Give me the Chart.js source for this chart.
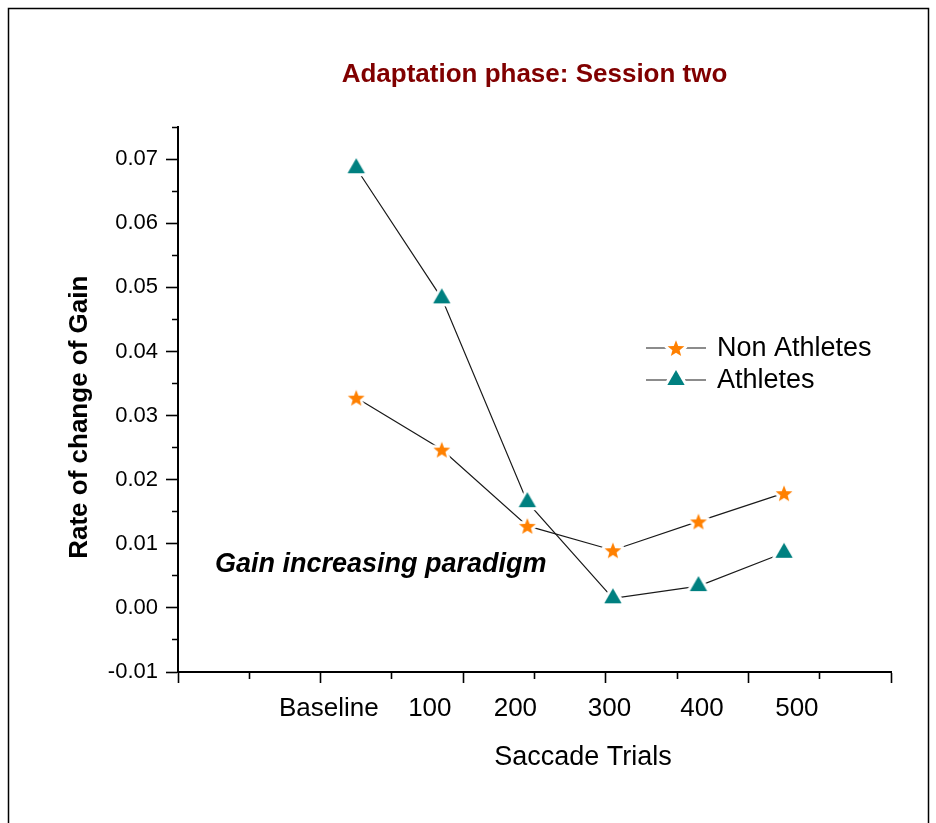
<!DOCTYPE html>
<html>
<head>
<meta charset="utf-8">
<script src="https://cdn.jsdelivr.net/npm/chart.js@4.4.1/dist/chart.umd.min.js"></script>
<style>
  html, body { margin: 0; padding: 0; background: #fff; }
  canvas { display: block; }
</style>
</head>
<body>
<canvas id="c" width="936" height="823"></canvas>
<script>
// ---------------- data ----------------
const categories = ['Baseline', '100', '200', '300', '400', '500'];
const nonAthletes = [0.0328, 0.0247, 0.0128, 0.0090, 0.0135, 0.0179];
const athletes = [0.0686, 0.0483, 0.0165, 0.0015, 0.0034, 0.0086];
const yMajorTicks = [-0.01, 0.00, 0.01, 0.02, 0.03, 0.04, 0.05, 0.06, 0.07];
const seriesNames = ['Non Athletes', 'Athletes'];
const chartTitle = 'Adaptation phase: Session two';
const xTitle = 'Saccade Trials';
const yTitle = 'Rate of change of Gain';
const noteText = 'Gain increasing paradigm';

// ---------------- layout / style ----------------
const FONT = "'Liberation Sans', Arial, Helvetica, sans-serif";
const axisLayout = {
  xMin: -25 / 12, xMax: 6.25, xStep: 5 / 6,           // axis range in category-index units
  labelAt: [-0.32, 0.86, 1.86, 2.96, 4.04, 5.15],      // where each category text sits
  yMin: -0.01, yMax: 0.075, yStep: 0.005
};
const ORANGE = '#FF8000';
const TEAL = '#008080';

function makeMarker(kind, color) {
  const r = kind === 'star' ? 8.8 : 10;
  const pad = 4;
  const s = Math.ceil(2 * (r + pad));
  const c = document.createElement('canvas');
  c.width = s; c.height = s;
  const g = c.getContext('2d');
  const cx = s / 2, cy = s / 2;
  g.beginPath();
  if (kind === 'star') {
    const ri = r * 0.43;
    for (let k = 0; k < 10; k++) {
      const a = -Math.PI / 2 + k * Math.PI / 5;
      const rr = k % 2 ? ri : r;
      const px = cx + rr * Math.cos(a), py = cy + 1 + rr * Math.sin(a);
      k ? g.lineTo(px, py) : g.moveTo(px, py);
    }
  } else {
    for (let k = 0; k < 3; k++) {
      const a = -Math.PI / 2 + k * 2 * Math.PI / 3;
      const px = cx + r * Math.cos(a), py = cy + r * Math.sin(a);
      k ? g.lineTo(px, py) : g.moveTo(px, py);
    }
  }
  g.closePath();
  g.lineJoin = 'round';
  g.strokeStyle = '#fff';
  g.lineWidth = 6;
  g.stroke();
  g.fillStyle = color;
  g.fill();
  return c;
}
const starImg = makeMarker('star', ORANGE);
const triImg = makeMarker('tri', TEAL);

const decor = {
  id: 'decor',
  beforeDraw(chart) {
    const ctx = chart.ctx;
    ctx.save();
    ctx.fillStyle = '#fff';
    ctx.fillRect(0, 0, chart.width, chart.height);
    ctx.strokeStyle = '#000';
    ctx.lineWidth = 1.5;
    ctx.strokeRect(8.5, 8.5, 920, 900);
    ctx.restore();
  },
  afterDraw(chart) {
    const ctx = chart.ctx;
    const a = chart.chartArea;
    ctx.save();
    ctx.fillStyle = '#000';
    // y title
    ctx.save();
    ctx.translate(a.left - 98, a.top + 290);
    ctx.rotate(-Math.PI / 2);
    ctx.font = 'bold 26px ' + FONT;
    ctx.textAlign = 'center';
    ctx.textBaseline = 'middle';
    ctx.fillText(yTitle, 0, 0);
    ctx.restore();
    // x title
    ctx.font = '27px ' + FONT;
    ctx.textAlign = 'center';
    ctx.textBaseline = 'middle';
    ctx.fillText(xTitle, a.left + 405, a.bottom + 86);
    // note
    ctx.font = 'italic bold 27px ' + FONT;
    ctx.textAlign = 'left';
    ctx.textBaseline = 'alphabetic';
    ctx.fillText(noteText, a.left + 37, a.bottom - 100);
    // legend
    const rows = [
      { ds: chart.data.datasets[0], img: starImg, y: 348 },
      { ds: chart.data.datasets[1], img: triImg, y: 380 }
    ];
    const lx = a.left + 468;
    rows.forEach(row => {
      ctx.strokeStyle = row.ds.borderColor;
      ctx.lineWidth = row.ds.borderWidth;
      ctx.beginPath();
      ctx.moveTo(lx, row.y); ctx.lineTo(lx + 21, row.y);
      ctx.moveTo(lx + 39, row.y); ctx.lineTo(lx + 60, row.y);
      ctx.stroke();
      ctx.drawImage(row.img, lx + 30 - row.img.width / 2, row.y - row.img.height / 2);
      ctx.font = '27px ' + FONT;
      ctx.textAlign = 'left';
      ctx.textBaseline = 'middle';
      ctx.fillStyle = '#000';
      ctx.fillText(row.ds.label, lx + 71, row.y + 1);
    });
    ctx.restore();
  }
};

const ctxEl = document.getElementById('c');
new Chart(ctxEl, {
  type: 'line',
  data: {
    datasets: [
      {
        label: seriesNames[0],
        data: categories.map((c, i) => ({ x: i, y: nonAthletes[i] })),
        borderColor: '#1a1a1a',
        borderWidth: 1.2,
        pointStyle: starImg,
        pointRadius: 9,
        tension: 0,
        fill: false
      },
      {
        label: seriesNames[1],
        data: categories.map((c, i) => ({ x: i, y: athletes[i] })),
        borderColor: '#1a1a1a',
        borderWidth: 1.2,
        pointStyle: triImg,
        pointRadius: 10,
        tension: 0,
        fill: false
      }
    ]
  },
  options: {
    responsive: false,
    devicePixelRatio: 1,
    animation: false,
    layout: { padding: { left: 20, right: 45, top: 0, bottom: 0 } },
    plugins: {
      legend: { display: false },
      tooltip: { enabled: false },
      title: {
        display: true,
        text: chartTitle,
        color: '#800000',
        fullSize: false,
        font: { family: FONT, size: 26, weight: 'bold' },
        padding: { top: 59, bottom: 37 }
      }
    },
    scales: {
      x: {
        type: 'linear',
        min: axisLayout.xMin,
        max: axisLayout.xMax,
        afterBuildTicks(scale) {
          const t = [];
          for (let k = 0; k <= 10; k++) {
            t.push({ value: axisLayout.xMin + k * axisLayout.xStep, kind: k % 2 === 0 ? 'major' : 'minor', txt: '' });
          }
          axisLayout.labelAt.forEach((v, i) => t.push({ value: v, kind: 'label', txt: categories[i] }));
          t.sort((p, q) => p.value - q.value);
          scale.ticks = t;
        },
        afterFit(scale) { scale.height = 151; },
        ticks: {
          autoSkip: false,
          maxRotation: 0,
          minRotation: 0,
          padding: 10,
          color: '#000',
          font: { family: FONT, size: 26 },
          callback(value, index, ticks) { return ticks[index].txt; }
        },
        grid: {
          drawOnChartArea: false,
          drawTicks: true,
          tickLength: 11,
          tickWidth: 1.6,
          tickColor: (c) => (c.tick && c.tick.kind === 'label') ? 'rgba(0,0,0,0)' : '#000',
          tickBorderDash: (c) => (c.tick && c.tick.kind === 'minor') ? [6, 30] : []
        },
        border: { display: true, color: '#000', width: 2 }
      },
      y: {
        type: 'linear',
        min: axisLayout.yMin,
        max: axisLayout.yMax,
        afterBuildTicks(scale) {
          const t = [];
          const n = Math.round((axisLayout.yMax - axisLayout.yMin) / axisLayout.yStep);
          for (let k = 0; k <= n; k++) {
            const v = Math.round((axisLayout.yMin + k * axisLayout.yStep) * 1e6) / 1e6;
            const isMajor = yMajorTicks.some(m => Math.abs(m - v) < 1e-7);
            t.push({ value: v, kind: isMajor ? 'major' : 'minor' });
          }
          scale.ticks = t;
        },
        afterFit(scale) { scale.width = 158; },
        ticks: {
          autoSkip: false,
          padding: 8,
          color: '#000',
          font: { family: FONT, size: 22 },
          callback(value, index, ticks) {
            return ticks[index].kind === 'major' ? (Math.round(value * 1000) / 1000).toFixed(2) : '';
          }
        },
        grid: {
          drawOnChartArea: false,
          drawTicks: true,
          tickLength: 12,
          tickWidth: 1.6,
          tickColor: '#000',
          tickBorderDash: (c) => (c.tick && c.tick.kind === 'minor') ? [0, 6, 30] : []
        },
        border: { display: true, color: '#000', width: 2 }
      }
    }
  },
  plugins: [decor]
});
</script>
</body>
</html>
